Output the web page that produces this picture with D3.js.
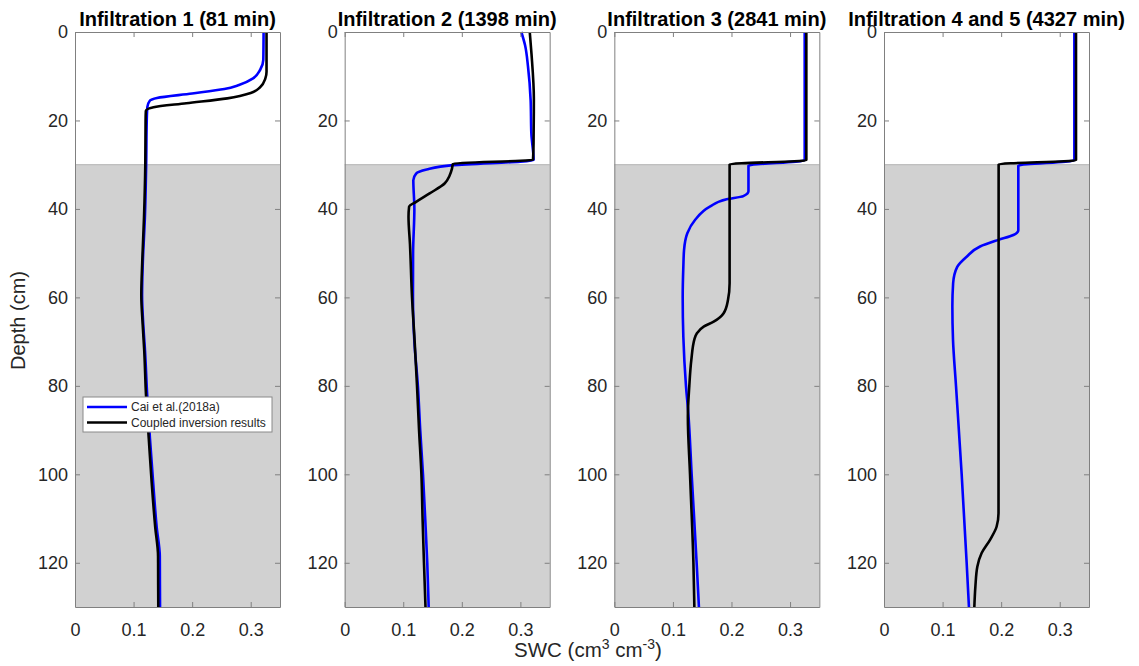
<!DOCTYPE html>
<html>
<head>
<meta charset="utf-8">
<script src="https://cdn.jsdelivr.net/npm/d3@7"></script>
<style>
  html, body { margin: 0; padding: 0; background: #ffffff; }
  svg { display: block; font-family: "Liberation Sans", Arial, Helvetica, sans-serif; }
</style>
</head>
<body>
<svg id="chart" width="1139" height="666"></svg>
<script>
// Panel titles
const titles = [
  "Infiltration 1 (81 min)",
  "Infiltration 2 (1398 min)",
  "Infiltration 3 (2841 min)",
  "Infiltration 4 and 5 (4327 min)"
];

const xTicks = [0, 0.1, 0.2, 0.3];
const yTicks = [0, 20, 40, 60, 80, 100, 120];
const swcDomain = [0, 0.35];
const depthDomain = [0, 130];
const subsoilTop = 30;   // depth of the shaded layer (cm)

const seriesNames = ["Cai et al.(2018a)", "Coupled inversion results"];

// [SWC, depth] profiles, Cai et al. (2018a)
const cai1 = [[0.322,0],[0.3215,6.3],[0.316,8.6],[0.304,10.5],[0.28,12],[0.255,12.9],[0.20,13.9],[0.14,14.9],[0.128,15.5],[0.1235,17],[0.1225,20],[0.1215,30],[0.1193,42],[0.1158,52],[0.1145,59.5],[0.1165,66],[0.1195,72],[0.1232,82],[0.128,92],[0.1335,102],[0.1395,112],[0.1448,118.5],[0.145,125],[0.1452,130]];
const cai2 = [[0.3016,0],[0.308,3],[0.313,7.8],[0.3175,15.4],[0.3187,22.9],[0.3226,29.0],[0.185,30.1],[0.14,31.1],[0.122,32.0],[0.1172,33.5],[0.119,40],[0.1168,50],[0.1166,60],[0.119,70],[0.125,80],[0.129,90],[0.1337,100],[0.1375,110],[0.141,120],[0.1434,130]];
const cai3 = [[0.325,0],[0.325,29.0],[0.229,30.2],[0.229,36.0],[0.2202,37.1],[0.1918,37.8],[0.163,39.5],[0.1377,42.5],[0.1246,45.5],[0.119,49.3],[0.1178,53.1],[0.1167,60],[0.1178,68.9],[0.1223,80],[0.1263,86.2],[0.132,100],[0.1405,120],[0.1444,130]];
const cai4 = [[0.325,0],[0.325,29.0],[0.2293,30.2],[0.2293,44.8],[0.2208,45.9],[0.1953,47.0],[0.164,48.5],[0.1411,50.8],[0.125,53.1],[0.118,56.8],[0.1167,62],[0.1178,69.6],[0.1229,80],[0.1326,100],[0.1411,120],[0.145,130]];

// [SWC, depth] profiles, coupled inversion
const inv1 = [[0.327,0],[0.327,9],[0.325,10.5],[0.316,12.5],[0.30,13.8],[0.26,15.0],[0.19,16.1],[0.134,17.0],[0.121,17.8],[0.1205,20],[0.12,30],[0.1178,42],[0.1148,52],[0.1132,59.5],[0.1155,66],[0.1182,72],[0.1212,82],[0.126,92],[0.131,102],[0.137,112],[0.1418,118.5],[0.142,125],[0.1422,130]];
const inv2 = [[0.316,0],[0.319,5],[0.323,15],[0.3225,25],[0.3215,28.9],[0.185,29.8],[0.183,31],[0.179,32.5],[0.171,34.2],[0.145,36.5],[0.122,38.4],[0.110,39.5],[0.109,41.8],[0.1115,48],[0.115,60],[0.1195,70],[0.1235,80],[0.127,90],[0.131,100],[0.133,110],[0.1354,120],[0.138,130]];
const inv3 = [[0.3278,0],[0.3278,29.0],[0.1968,29.9],[0.1968,56.8],[0.194,60.6],[0.1866,63.6],[0.1696,65.5],[0.1525,66.6],[0.141,68.1],[0.137,69.3],[0.1314,74.2],[0.128,80],[0.1255,87],[0.1292,100],[0.135,120],[0.1366,130]];
const inv4 = [[0.3278,0],[0.3278,29.0],[0.1957,29.9],[0.1955,108.8],[0.1923,111.8],[0.181,114.8],[0.1667,117.8],[0.1593,120.9],[0.156,125.4],[0.1542,130]];

const caiProfiles = [cai1, cai2, cai3, cai4];
const invProfiles = [inv1, inv2, inv3, inv4];

// Layout
const plotTop = 32, plotBottom = 607;
const firstLeft = 75, panelWidth = 205, panelStep = 269.67;
const plotH = plotBottom - plotTop;

const axisColor = "#808080";
const textColor = "#262626";
const shadeColor = "#d1d1d1";
const caiColor = "#0000ff";
const invColor = "#000000";

const svg = d3.select("#chart");

const x = d3.scaleLinear().domain(swcDomain).range([0, panelWidth]);
const y = d3.scaleLinear().domain(depthDomain).range([0, plotH]);

const line = d3.line()
  .x(d => x(d[0]))
  .y(d => y(d[1]))
  .curve(d3.curveMonotoneY);

function styleAxis(g) {
  g.selectAll("path.domain").attr("stroke", axisColor).attr("stroke-width", 1);
  g.selectAll(".tick line").attr("stroke", axisColor).attr("stroke-width", 1);
  g.selectAll(".tick text").attr("fill", textColor).attr("font-size", 18)
    .attr("font-family", "'Liberation Sans', Arial, sans-serif");
}

titles.forEach((title, i) => {
  const left = firstLeft + i * panelStep;
  const g = svg.append("g").attr("transform", `translate(${left},${plotTop})`);

  // shaded lower layer
  g.append("rect")
    .attr("x", 0).attr("y", y(subsoilTop))
    .attr("width", panelWidth).attr("height", y(depthDomain[1]) - y(subsoilTop))
    .attr("fill", shadeColor);
  g.append("line")
    .attr("x1", 0).attr("x2", panelWidth)
    .attr("y1", y(subsoilTop)).attr("y2", y(subsoilTop))
    .attr("stroke", "#b3b3b3").attr("stroke-width", 1);

  // profiles
  g.append("path").datum(caiProfiles[i])
    .attr("d", line).attr("fill", "none")
    .attr("stroke", caiColor).attr("stroke-width", 2.6)
    .attr("stroke-linejoin", "round");
  g.append("path").datum(invProfiles[i])
    .attr("d", line).attr("fill", "none")
    .attr("stroke", invColor).attr("stroke-width", 2.6)
    .attr("stroke-linejoin", "round");

  // axes, ticks pointing inward on all four sides
  g.append("g").attr("transform", `translate(0,${plotH})`)
    .call(d3.axisBottom(x).tickValues(xTicks).tickFormat(d => d === 0 ? "0" : d3.format(".1f")(d))
      .tickSizeInner(-5).tickSizeOuter(0).tickPadding(16))
    .call(styleAxis);
  g.append("g")
    .call(d3.axisTop(x).tickValues(xTicks).tickFormat("").tickSizeInner(-5).tickSizeOuter(0))
    .call(styleAxis);
  g.append("g")
    .call(d3.axisLeft(y).tickValues(yTicks).tickFormat(d3.format("d"))
      .tickSizeInner(-5).tickSizeOuter(0).tickPadding(7))
    .call(styleAxis);
  g.append("g").attr("transform", `translate(${panelWidth},0)`)
    .call(d3.axisRight(y).tickValues(yTicks).tickFormat("").tickSizeInner(-5).tickSizeOuter(0))
    .call(styleAxis);

  // title
  svg.append("text")
    .attr("x", left + panelWidth / 2).attr("y", 25.5)
    .attr("text-anchor", "middle")
    .attr("font-size", 20).attr("font-weight", "bold").attr("fill", "#000")
    .text(title);

  // legend in first panel
  if (i === 0) {
    const lg = g.append("g").attr("transform", `translate(8,${397 - plotTop})`);
    lg.append("rect").attr("width", 189).attr("height", 35)
      .attr("fill", "#ffffff").attr("stroke", "#8a8a8a").attr("stroke-width", 1);
    [caiColor, invColor].forEach((c, k) => {
      const ly = 10 + k * 15.5;
      lg.append("line").attr("x1", 4).attr("x2", 44).attr("y1", ly).attr("y2", ly)
        .attr("stroke", c).attr("stroke-width", 2.6);
      lg.append("text").attr("x", 48).attr("y", ly + 4.3)
        .attr("font-size", 12).attr("fill", textColor)
        .text(seriesNames[k]);
    });
  }
});

// axis labels
svg.append("text")
  .attr("transform", `translate(25,${(plotTop + plotBottom) / 2 + 1}) rotate(-90)`)
  .attr("text-anchor", "middle").attr("font-size", 20).attr("fill", textColor)
  .text("Depth (cm)");

const xl = svg.append("text")
  .attr("x", 588).attr("y", 657)
  .attr("text-anchor", "middle").attr("font-size", 20.5).attr("fill", textColor);
xl.append("tspan").text("SWC (cm");
xl.append("tspan").attr("font-size", 14).attr("dy", -8).text("3");
xl.append("tspan").attr("dy", 8).text(" cm");
xl.append("tspan").attr("font-size", 14).attr("dy", -8).text("-3");
xl.append("tspan").attr("dy", 8).text(")");
</script>
</body>
</html>
